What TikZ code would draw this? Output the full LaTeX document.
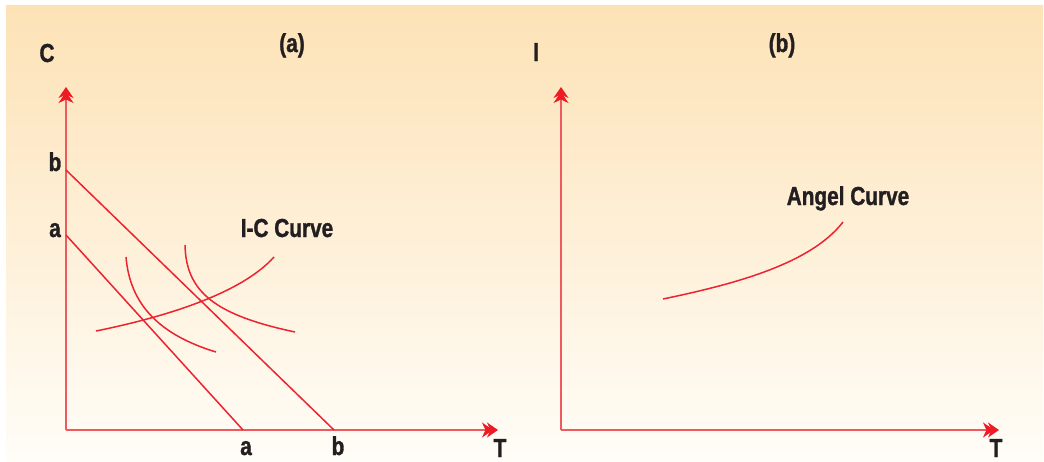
\documentclass[tikz,border=0pt]{standalone}
\usepackage{fontspec}
\setmainfont{Liberation Sans}[FakeStretch=0.8, BoldFeatures={FakeBold=1.2}]
\usetikzlibrary{arrows.meta}
\definecolor{bgtop}{HTML}{FDE2B6}
\definecolor{bgbot}{HTML}{FFFDF8}
\definecolor{axisred}{HTML}{EF5A5E}
\definecolor{curvered}{HTML}{EC2330}
\definecolor{tipred}{HTML}{ED1C24}
\definecolor{txt}{HTML}{231F20}
\tikzset{
  tiphead/.tip={Stealth[length=11pt,width=15pt,inset=3.5pt,color=tipred,fill=tipred]},
  axisline/.style={draw=axisred, line width=2pt,
    -{Stealth[length=11pt,width=15pt,inset=3.5pt,color=tipred,fill=tipred,sep=-6pt]Stealth[length=11pt,width=15pt,inset=3.5pt,color=tipred,fill=tipred]}},
  budget/.style={draw=curvered, line width=1.5pt},
  curve/.style={draw=curvered, line width=1.5pt},
  lbl/.style={text=txt, font=\fontsize{26}{30}\selectfont\bfseries, inner sep=0pt, anchor=base}
}
\begin{document}
\begin{tikzpicture}[x=1pt,y=-1pt]
\useasboundingbox (0,0) rectangle (1044,461);
\fill[white] (0,0) rectangle (1044,461);
\shade[top color=bgtop, bottom color=bgbot] (6,5) rectangle (1043,461);

% panel (a)
\coordinate (Oa) at (66,430);
\coordinate (Ya) at (66,87);
\coordinate (Xa) at (498,430);
\draw[axisline] (Oa) -- (Ya);
\draw[axisline] (Oa) -- (Xa);

\coordinate (a1) at (66,235);
\coordinate (a2) at (243,430);
\coordinate (b1) at (66,170);
\coordinate (b2) at (334,430);
\draw[budget] (a1) -- (a2);
\draw[budget] (b1) -- (b2);

\coordinate (ic1) at (96,331);
\coordinate (ic2) at (274,257);
\draw[curve] (ic1) .. controls (160,318) and (240,295) .. (ic2);

\coordinate (u1s) at (126,257);
\coordinate (u1e) at (216,352);
\draw[curve] (u1s) .. controls (130,305) and (160,335) .. (u1e);
\coordinate (u2s) at (185,245);
\coordinate (u2e) at (295,332);
\draw[curve] (u2s) .. controls (186,292) and (215,315) .. (u2e);

\node[lbl] (lC) at (47,62) {C};
\node[lbl] (la) at (292,52) {(a)};
\node[lbl] (lb1) at (55,171) {b};
\node[lbl] (la1) at (55,237) {a};
\node[lbl] (la2) at (246,455) {a};
\node[lbl] (lb2) at (338,455) {b};
\node[lbl] (lTa) at (500,457) {T};
\node[lbl] (lic) at (287,237) {I-C Curve};

% panel (b)
\coordinate (Ob) at (561,430);
\coordinate (Yb) at (561,87);
\coordinate (Xb) at (999,430);
\draw[axisline] (Ob) -- (Yb);
\draw[axisline] (Ob) -- (Xb);

\coordinate (ac1) at (663,299);
\coordinate (ac2) at (843,222);
\draw[curve] (ac1) .. controls (730,285) and (810,265) .. (ac2);

\node[lbl] (lI) at (536,61) {I};
\node[lbl] (lbb) at (782,52) {(b)};
\node[lbl] (lac) at (848,205) {Angel Curve};
\node[lbl] (lTb) at (996,457) {T};
\end{tikzpicture}
\end{document}
